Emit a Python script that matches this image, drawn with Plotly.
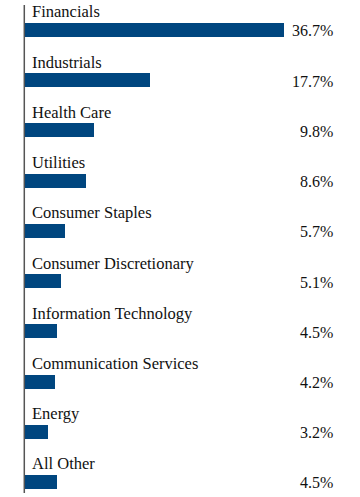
import plotly.graph_objects as go

categories = ["Financials", "Industrials", "Health Care", "Utilities", "Consumer Staples",
              "Consumer Discretionary", "Information Technology", "Communication Services",
              "Energy", "All Other"]
values = [36.7, 17.7, 9.8, 8.6, 5.7, 5.1, 4.5, 4.2, 3.2, 4.5]
value_labels = ["36.7%", "17.7%", "9.8%", "8.6%", "5.7%", "5.1%", "4.5%", "4.2%", "3.2%", "4.5%"]

pos = list(range(len(categories)))
font = "Liberation Serif, Times New Roman, serif"
bar_color = "#00467f"

W, H = 360, 497
ML = 25
plot_w = W - ML

fig = go.Figure(go.Bar(
    x=values, y=pos, orientation="h", width=0.28,
    marker=dict(color=bar_color, line=dict(width=0)),
    hoverinfo="skip",
))

for p, c, lab in zip(pos, categories, value_labels):
    fig.add_annotation(x=0, y=p, xref="x", yref="y", text=c, showarrow=False,
                       xanchor="left", yanchor="middle", xshift=5, yshift=18,
                       font=dict(family=font, size=16.5, color="#111111"))
    fig.add_annotation(x=(335 - ML) / plot_w, y=p, xref="paper", yref="y", text=lab,
                       showarrow=False, xanchor="right", yanchor="middle", yshift=-1,
                       font=dict(family=font, size=16, color="#111111"))

fig.add_shape(type="line", xref="paper", yref="paper",
              x0=-0.7 / plot_w, x1=-0.7 / plot_w, y0=1 - 5 / H, y1=1 - 493 / H,
              line=dict(color="#555555", width=1.5))

fig.update_layout(
    width=W, height=H,
    margin=dict(l=ML, r=0, t=0, b=0, pad=0),
    paper_bgcolor="white", plot_bgcolor="white",
    showlegend=False, bargap=0,
    xaxis=dict(range=[0, plot_w / 7.07], visible=False, fixedrange=True),
    yaxis=dict(range=[9.299, -0.597], visible=False, fixedrange=True),
)

fig.write_html("out.html", config={"displayModeBar": False},
               post_script="document.body.style.margin='0';")
